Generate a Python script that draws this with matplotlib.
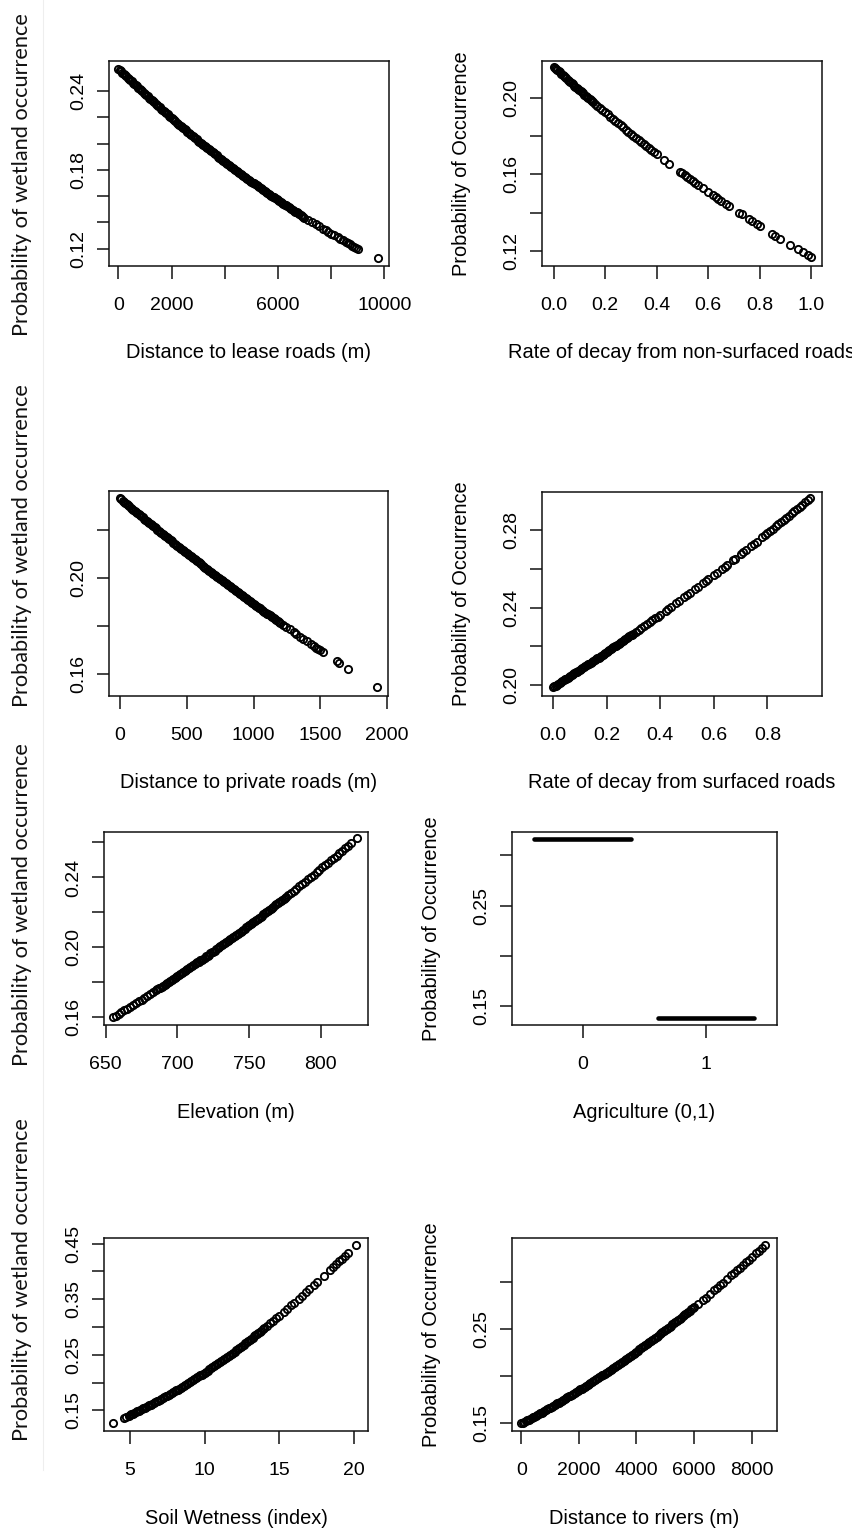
import numpy as np
import matplotlib.pyplot as plt
from matplotlib import rcParams
from matplotlib.lines import Line2D

rcParams['font.family'] = ['Liberation Sans', 'DejaVu Sans']
rcParams['text.color'] = '#111111'

# partial response of wetland occurrence to each predictor
lease_dist = [0, 50, 100, 150, 200, 250, 300, 350, 400, 450,
              500, 550, 600, 650, 700, 750, 800, 850, 900, 950,
              1000, 1050, 1100, 1150, 1200, 1250, 1300, 1350, 1400, 1450,
              1500, 1550, 1600, 1650, 1700, 1750, 1800, 1850, 1900, 1950,
              2000, 2050, 2100, 2150, 2200, 2250, 2300, 2350, 2400, 2450,
              2500, 2550, 2600, 2650, 2700, 2750, 2800, 2850, 2900, 2950,
              3000, 3050, 3100, 3150, 3200, 3250, 3300, 3350, 3400, 3450,
              3500, 3550, 3600, 3650, 3700, 3750, 3800, 3850, 3900, 3950,
              4000, 4050, 4100, 4150, 4200, 4250, 4300, 4350, 4400, 4450,
              4500, 4550, 4600, 4650, 4700, 4750, 4800, 4850, 4900, 4950,
              5000, 5050, 5100, 5150, 5200, 5250, 5300, 5350, 5400, 5450,
              5500, 5550, 5600, 5650, 5700, 5750, 5800, 5850, 5900, 5950,
              6000, 6050, 6100, 6150, 6200, 6250, 6300, 6350, 6400, 6450,
              6500, 6550, 6600, 6650, 6700, 6750, 6800, 6850, 6900, 6950,
              7000, 7150, 7300, 7420, 7550, 7680, 7800, 7900, 8000, 8120,
              8250, 8350, 8450, 8550, 8650, 8720, 8800, 8870, 8950, 9000,
              9774]
lease_prob = [0.2570, 0.2560, 0.2551, 0.2541, 0.2531, 0.2522, 0.2512, 0.2502, 0.2492, 0.2483,
              0.2473, 0.2464, 0.2454, 0.2445, 0.2435, 0.2426, 0.2416, 0.2407, 0.2397, 0.2388,
              0.2378, 0.2369, 0.2359, 0.2350, 0.2341, 0.2332, 0.2322, 0.2313, 0.2304, 0.2295,
              0.2285, 0.2276, 0.2267, 0.2258, 0.2249, 0.2240, 0.2231, 0.2222, 0.2213, 0.2204,
              0.2195, 0.2187, 0.2178, 0.2169, 0.2160, 0.2152, 0.2143, 0.2134, 0.2125, 0.2117,
              0.2108, 0.2100, 0.2091, 0.2083, 0.2074, 0.2066, 0.2057, 0.2049, 0.2040, 0.2032,
              0.2023, 0.2015, 0.2007, 0.1999, 0.1990, 0.1982, 0.1974, 0.1966, 0.1957, 0.1949,
              0.1941, 0.1933, 0.1925, 0.1917, 0.1909, 0.1901, 0.1893, 0.1885, 0.1877, 0.1869,
              0.1861, 0.1854, 0.1846, 0.1838, 0.1830, 0.1823, 0.1815, 0.1807, 0.1799, 0.1792,
              0.1784, 0.1777, 0.1769, 0.1762, 0.1754, 0.1747, 0.1740, 0.1733, 0.1725, 0.1718,
              0.1710, 0.1703, 0.1696, 0.1689, 0.1681, 0.1674, 0.1667, 0.1660, 0.1652, 0.1645,
              0.1638, 0.1631, 0.1624, 0.1617, 0.1610, 0.1603, 0.1596, 0.1589, 0.1582, 0.1575,
              0.1568, 0.1562, 0.1555, 0.1548, 0.1541, 0.1535, 0.1528, 0.1521, 0.1514, 0.1508,
              0.1501, 0.1495, 0.1488, 0.1482, 0.1475, 0.1469, 0.1462, 0.1456, 0.1449, 0.1443,
              0.1436, 0.1417, 0.1399, 0.1384, 0.1368, 0.1352, 0.1338, 0.1326, 0.1314, 0.1300,
              0.1285, 0.1273, 0.1262, 0.1250, 0.1239, 0.1231, 0.1222, 0.1215, 0.1206, 0.1200,
              0.1130]

nonsurf_decay = [0.0, 0.005, 0.01, 0.015, 0.02, 0.025, 0.03, 0.035, 0.04, 0.045,
                 0.05, 0.055, 0.06, 0.065, 0.07, 0.075, 0.08, 0.085, 0.09, 0.095,
                 0.10, 0.105, 0.11, 0.115, 0.12, 0.125, 0.13, 0.135, 0.14, 0.145,
                 0.15, 0.155, 0.16, 0.17, 0.18, 0.19, 0.20, 0.21, 0.22, 0.23,
                 0.24, 0.25, 0.26, 0.27, 0.28, 0.29, 0.30, 0.31, 0.32, 0.33,
                 0.34, 0.35, 0.36, 0.37, 0.38, 0.39, 0.40, 0.43, 0.45, 0.49,
                 0.50, 0.51, 0.52, 0.53, 0.54, 0.55, 0.56, 0.58, 0.60, 0.62,
                 0.63, 0.64, 0.65, 0.67, 0.68, 0.72, 0.73, 0.76, 0.77, 0.79,
                 0.80, 0.85, 0.86, 0.88, 0.92, 0.95, 0.97, 0.99, 1.00]
nonsurf_prob = [0.2162, 0.2156, 0.2150, 0.2144, 0.2138, 0.2132, 0.2125, 0.2119, 0.2113, 0.2107,
                0.2101, 0.2095, 0.2089, 0.2083, 0.2077, 0.2071, 0.2064, 0.2058, 0.2052, 0.2046,
                0.2040, 0.2034, 0.2028, 0.2023, 0.2017, 0.2011, 0.2005, 0.2000, 0.1994, 0.1988,
                0.1982, 0.1976, 0.1970, 0.1959, 0.1947, 0.1936, 0.1924, 0.1913, 0.1902, 0.1890,
                0.1879, 0.1868, 0.1857, 0.1846, 0.1834, 0.1823, 0.1812, 0.1801, 0.1791, 0.1780,
                0.1770, 0.1759, 0.1748, 0.1738, 0.1727, 0.1717, 0.1706, 0.1676, 0.1656, 0.1615,
                0.1605, 0.1595, 0.1586, 0.1576, 0.1567, 0.1557, 0.1547, 0.1528, 0.1509, 0.1491,
                0.1481, 0.1472, 0.1463, 0.1445, 0.1435, 0.1400, 0.1391, 0.1365, 0.1356, 0.1339,
                0.1330, 0.1289, 0.1281, 0.1264, 0.1232, 0.1209, 0.1193, 0.1178, 0.1170]

private_dist = [0, 10, 20, 30, 40, 50, 60, 70, 80, 90,
                100, 110, 120, 130, 140, 150, 160, 170, 180, 190,
                200, 210, 220, 230, 240, 250, 260, 270, 280, 290,
                300, 310, 320, 330, 340, 350, 360, 370, 380, 390,
                400, 410, 420, 430, 440, 450, 460, 470, 480, 490,
                500, 510, 520, 530, 540, 550, 560, 570, 580, 590,
                600, 610, 620, 630, 640, 650, 660, 670, 680, 690,
                700, 710, 720, 730, 740, 750, 760, 770, 780, 790,
                800, 810, 820, 830, 840, 850, 860, 870, 880, 890,
                900, 910, 920, 930, 940, 950, 960, 970, 980, 990,
                1000, 1010, 1020, 1030, 1040, 1050, 1060, 1070, 1080, 1090,
                1100, 1110, 1120, 1130, 1140, 1150, 1160, 1170, 1180, 1190,
                1200, 1220, 1240, 1270, 1300, 1320, 1350, 1370, 1400, 1430,
                1450, 1470, 1485, 1500, 1517, 1622, 1639, 1709, 1921]
private_prob = [0.2332, 0.2328, 0.2323, 0.2318, 0.2313, 0.2309, 0.2304, 0.2299, 0.2294, 0.2290,
                0.2285, 0.2281, 0.2276, 0.2272, 0.2267, 0.2262, 0.2257, 0.2253, 0.2248, 0.2244,
                0.2239, 0.2235, 0.2230, 0.2226, 0.2221, 0.2216, 0.2211, 0.2207, 0.2202, 0.2198,
                0.2193, 0.2189, 0.2184, 0.2180, 0.2175, 0.2171, 0.2166, 0.2162, 0.2157, 0.2153,
                0.2148, 0.2144, 0.2139, 0.2135, 0.2130, 0.2126, 0.2122, 0.2118, 0.2113, 0.2109,
                0.2104, 0.2100, 0.2095, 0.2091, 0.2087, 0.2083, 0.2078, 0.2074, 0.2070, 0.2066,
                0.2061, 0.2057, 0.2052, 0.2048, 0.2043, 0.2039, 0.2035, 0.2031, 0.2026, 0.2022,
                0.2017, 0.2013, 0.2009, 0.2005, 0.2000, 0.1996, 0.1992, 0.1988, 0.1983, 0.1979,
                0.1975, 0.1971, 0.1967, 0.1963, 0.1959, 0.1955, 0.1950, 0.1946, 0.1942, 0.1938,
                0.1934, 0.1930, 0.1926, 0.1922, 0.1918, 0.1914, 0.1909, 0.1905, 0.1901, 0.1897,
                0.1893, 0.1889, 0.1885, 0.1881, 0.1877, 0.1873, 0.1868, 0.1864, 0.1860, 0.1856,
                0.1852, 0.1848, 0.1844, 0.1840, 0.1836, 0.1833, 0.1829, 0.1825, 0.1821, 0.1817,
                0.1813, 0.1805, 0.1797, 0.1786, 0.1774, 0.1766, 0.1755, 0.1747, 0.1736, 0.1725,
                0.1717, 0.1709, 0.1704, 0.1698, 0.1692, 0.1653, 0.1647, 0.1622, 0.1547]

surf_decay = [0.000, 0.005, 0.010, 0.015, 0.020, 0.025, 0.030, 0.035, 0.040, 0.045,
              0.050, 0.055, 0.060, 0.065, 0.070, 0.075, 0.080, 0.085, 0.090, 0.095,
              0.100, 0.105, 0.110, 0.115, 0.120, 0.125, 0.130, 0.135, 0.140, 0.145,
              0.150, 0.155, 0.160, 0.165, 0.170, 0.175, 0.180, 0.185, 0.190, 0.195,
              0.200, 0.205, 0.210, 0.215, 0.220, 0.225, 0.230, 0.235, 0.240, 0.245,
              0.250, 0.255, 0.260, 0.265, 0.270, 0.275, 0.280, 0.285, 0.290, 0.295,
              0.30, 0.31, 0.32, 0.33, 0.34, 0.35, 0.36, 0.37, 0.38, 0.39,
              0.40, 0.42, 0.43, 0.44, 0.46, 0.47, 0.49, 0.50, 0.51, 0.53,
              0.54, 0.56, 0.57, 0.58, 0.60, 0.61, 0.63, 0.64, 0.65, 0.67,
              0.68, 0.70, 0.71, 0.72, 0.74, 0.75, 0.76, 0.78, 0.79, 0.80,
              0.81, 0.82, 0.83, 0.84, 0.85, 0.86, 0.87, 0.88, 0.89, 0.90,
              0.91, 0.92, 0.93, 0.94, 0.95, 0.96]
surf_prob = [0.1988, 0.1993, 0.1997, 0.2002, 0.2006, 0.2011, 0.2015, 0.2020, 0.2024, 0.2029,
             0.2033, 0.2038, 0.2042, 0.2047, 0.2051, 0.2056, 0.2060, 0.2065, 0.2069, 0.2074,
             0.2078, 0.2083, 0.2087, 0.2092, 0.2096, 0.2101, 0.2106, 0.2111, 0.2115, 0.2120,
             0.2124, 0.2129, 0.2133, 0.2138, 0.2142, 0.2147, 0.2152, 0.2157, 0.2161, 0.2166,
             0.2170, 0.2175, 0.2180, 0.2185, 0.2189, 0.2194, 0.2199, 0.2204, 0.2208, 0.2213,
             0.2218, 0.2223, 0.2227, 0.2232, 0.2237, 0.2242, 0.2246, 0.2251, 0.2256, 0.2261,
             0.2265, 0.2275, 0.2285, 0.2295, 0.2305, 0.2315, 0.2324, 0.2334, 0.2344, 0.2354,
             0.2364, 0.2384, 0.2394, 0.2404, 0.2424, 0.2434, 0.2455, 0.2465, 0.2475, 0.2496,
             0.2506, 0.2527, 0.2538, 0.2548, 0.2569, 0.2580, 0.2601, 0.2612, 0.2622, 0.2644,
             0.2654, 0.2676, 0.2687, 0.2698, 0.2720, 0.2731, 0.2742, 0.2764, 0.2775, 0.2786,
             0.2797, 0.2808, 0.2820, 0.2831, 0.2842, 0.2853, 0.2864, 0.2876, 0.2887, 0.2898,
             0.2910, 0.2921, 0.2933, 0.2944, 0.2956, 0.2967]

elevation = [655, 657, 659, 661, 663, 665, 667, 669, 671, 673,
             675, 677, 679, 681, 683, 685, 686, 687, 688, 689,
             690, 691, 692, 693, 694, 695, 696, 697, 698, 699,
             700, 701, 702, 703, 704, 705, 706, 707, 708, 709,
             710, 711, 712, 713, 714, 715, 716, 717, 718, 719,
             720, 721, 722, 723, 724, 725, 726, 727, 728, 729,
             730, 731, 732, 733, 734, 735, 736, 737, 738, 739,
             740, 741, 742, 743, 744, 745, 746, 747, 748, 749,
             750, 751, 752, 753, 754, 755, 756, 757, 758, 759,
             760, 761, 762, 763, 764, 765, 766, 767, 768, 769,
             770, 771, 772, 773, 774, 775, 776, 777, 779, 781,
             783, 785, 787, 789, 791, 793, 795, 797, 799, 801,
             803, 805, 807, 809, 811, 813, 815, 817, 819, 821,
             825]
elev_prob = [0.1600, 0.1610, 0.1620, 0.1630, 0.1640, 0.1650, 0.1660, 0.1670, 0.1681, 0.1691,
             0.1701, 0.1712, 0.1722, 0.1733, 0.1743, 0.1754, 0.1760, 0.1765, 0.1770, 0.1775,
             0.1781, 0.1786, 0.1791, 0.1796, 0.1802, 0.1807, 0.1813, 0.1818, 0.1824, 0.1829,
             0.1835, 0.1841, 0.1847, 0.1852, 0.1858, 0.1863, 0.1869, 0.1874, 0.1880, 0.1885,
             0.1891, 0.1897, 0.1903, 0.1908, 0.1914, 0.1919, 0.1925, 0.1930, 0.1936, 0.1942,
             0.1948, 0.1953, 0.1959, 0.1965, 0.1971, 0.1976, 0.1982, 0.1988, 0.1994, 0.2000,
             0.2006, 0.2011, 0.2017, 0.2023, 0.2029, 0.2035, 0.2041, 0.2047, 0.2053, 0.2059,
             0.2066, 0.2072, 0.2078, 0.2084, 0.2090, 0.2096, 0.2102, 0.2108, 0.2114, 0.2120,
             0.2127, 0.2133, 0.2139, 0.2145, 0.2151, 0.2157, 0.2164, 0.2170, 0.2176, 0.2182,
             0.2189, 0.2195, 0.2201, 0.2207, 0.2214, 0.2220, 0.2227, 0.2233, 0.2240, 0.2246,
             0.2252, 0.2258, 0.2265, 0.2271, 0.2278, 0.2284, 0.2291, 0.2297, 0.2310, 0.2323,
             0.2336, 0.2349, 0.2362, 0.2376, 0.2389, 0.2403, 0.2416, 0.2430, 0.2443, 0.2457,
             0.2470, 0.2484, 0.2498, 0.2512, 0.2525, 0.2539, 0.2553, 0.2567, 0.2581, 0.2595,
             0.2623]

agri_level = [0, 1]
agri_prob = [0.3164, 0.1383]
agri_jitter = 0.39

soil_wet = [3.88, 4.6, 4.75, 4.9,
            5.0, 5.1, 5.2, 5.3, 5.4, 5.5, 5.6, 5.7, 5.8, 5.9,
            6.0, 6.1, 6.2, 6.3, 6.4, 6.5, 6.6, 6.7, 6.8, 6.9,
            7.0, 7.1, 7.2, 7.3, 7.4, 7.5, 7.6, 7.7, 7.8, 7.9,
            8.0, 8.1, 8.2, 8.3, 8.4, 8.5, 8.6, 8.7, 8.8, 8.9,
            9.0, 9.1, 9.2, 9.3, 9.4, 9.5, 9.6, 9.7, 9.8, 9.9,
            10.0, 10.1, 10.2, 10.3, 10.4, 10.5, 10.6, 10.7, 10.8, 10.9,
            11.0, 11.1, 11.2, 11.3, 11.4, 11.5, 11.6, 11.7, 11.8, 11.9,
            12.0, 12.1, 12.2, 12.3, 12.4, 12.5, 12.6, 12.7, 12.8, 12.9,
            13.0, 13.1, 13.2, 13.3, 13.4, 13.5, 13.6, 13.7, 13.8, 13.9,
            14.0, 14.2, 14.4, 14.6, 14.8, 15.0, 15.3, 15.5, 15.8, 16.0,
            16.3, 16.5, 16.8, 17.0, 17.3, 17.5, 18.0, 18.4, 18.6, 18.8,
            19.0, 19.2, 19.4, 19.6, 20.16]
soil_prob = [0.1276, 0.1363, 0.1382, 0.1401,
             0.1413, 0.1427, 0.1440, 0.1453, 0.1466, 0.1480, 0.1493, 0.1506, 0.1519, 0.1533,
             0.1546, 0.1560, 0.1574, 0.1589, 0.1603, 0.1617, 0.1631, 0.1646, 0.1660, 0.1674,
             0.1688, 0.1704, 0.1719, 0.1734, 0.1749, 0.1765, 0.1780, 0.1795, 0.1810, 0.1826,
             0.1841, 0.1858, 0.1874, 0.1890, 0.1906, 0.1923, 0.1939, 0.1955, 0.1971, 0.1988,
             0.2004, 0.2022, 0.2039, 0.2057, 0.2074, 0.2092, 0.2109, 0.2127, 0.2144, 0.2162,
             0.2179, 0.2198, 0.2216, 0.2235, 0.2253, 0.2271, 0.2289, 0.2308, 0.2326, 0.2345,
             0.2363, 0.2383, 0.2402, 0.2422, 0.2441, 0.2461, 0.2480, 0.2500, 0.2519, 0.2539,
             0.2558, 0.2579, 0.2599, 0.2620, 0.2640, 0.2661, 0.2682, 0.2703, 0.2723, 0.2744,
             0.2764, 0.2786, 0.2807, 0.2829, 0.2850, 0.2872, 0.2893, 0.2915, 0.2936, 0.2958,
             0.2979, 0.3024, 0.3069, 0.3114, 0.3159, 0.3204, 0.3274, 0.3321, 0.3391, 0.3438,
             0.3510, 0.3559, 0.3631, 0.3679, 0.3753, 0.3803, 0.3926, 0.4028, 0.4079, 0.4130,
             0.4181, 0.4232, 0.4284, 0.4335, 0.4480]

river_dist = [0, 50, 100, 150, 200, 250, 300, 350, 400, 450,
              500, 550, 600, 650, 700, 750, 800, 850, 900, 950,
              1000, 1050, 1100, 1150, 1200, 1250, 1300, 1350, 1400, 1450,
              1500, 1550, 1600, 1650, 1700, 1750, 1800, 1850, 1900, 1950,
              2000, 2050, 2100, 2150, 2200, 2250, 2300, 2350, 2400, 2450,
              2500, 2550, 2600, 2650, 2700, 2750, 2800, 2850, 2900, 2950,
              3000, 3050, 3100, 3150, 3200, 3250, 3300, 3350, 3400, 3450,
              3500, 3550, 3600, 3650, 3700, 3750, 3800, 3850, 3900, 3950,
              4000, 4050, 4100, 4150, 4200, 4250, 4300, 4350, 4400, 4450,
              4500, 4550, 4600, 4650, 4700, 4750, 4800, 4850, 4900, 4950,
              5000, 5050, 5100, 5150, 5200, 5250, 5300, 5350, 5400, 5450,
              5500, 5550, 5600, 5650, 5700, 5750, 5800, 5850, 5900, 5950,
              6000, 6150, 6300, 6400, 6550, 6700, 6800, 6900, 7000, 7150,
              7300, 7400, 7500, 7600, 7700, 7800, 7900, 8000, 8150, 8250,
              8350, 8477]
river_prob = [0.1500, 0.1508, 0.1516, 0.1525, 0.1533, 0.1541, 0.1549, 0.1558, 0.1566, 0.1574,
              0.1582, 0.1591, 0.1599, 0.1608, 0.1616, 0.1625, 0.1634, 0.1643, 0.1651, 0.1660,
              0.1668, 0.1677, 0.1686, 0.1695, 0.1704, 0.1713, 0.1722, 0.1731, 0.1740, 0.1749,
              0.1758, 0.1768, 0.1777, 0.1787, 0.1796, 0.1805, 0.1814, 0.1824, 0.1833, 0.1843,
              0.1852, 0.1862, 0.1871, 0.1881, 0.1891, 0.1901, 0.1910, 0.1920, 0.1930, 0.1940,
              0.1949, 0.1959, 0.1969, 0.1980, 0.1990, 0.2000, 0.2010, 0.2020, 0.2030, 0.2040,
              0.2050, 0.2061, 0.2071, 0.2082, 0.2092, 0.2103, 0.2113, 0.2124, 0.2134, 0.2145,
              0.2155, 0.2166, 0.2177, 0.2188, 0.2198, 0.2209, 0.2220, 0.2231, 0.2241, 0.2252,
              0.2263, 0.2275, 0.2286, 0.2297, 0.2308, 0.2320, 0.2331, 0.2342, 0.2353, 0.2365,
              0.2376, 0.2388, 0.2399, 0.2411, 0.2422, 0.2434, 0.2446, 0.2458, 0.2469, 0.2481,
              0.2492, 0.2504, 0.2516, 0.2528, 0.2540, 0.2552, 0.2564, 0.2576, 0.2588, 0.2600,
              0.2612, 0.2625, 0.2637, 0.2650, 0.2662, 0.2674, 0.2686, 0.2699, 0.2711, 0.2724,
              0.2736, 0.2774, 0.2813, 0.2838, 0.2877, 0.2916, 0.2942, 0.2968, 0.2994, 0.3035,
              0.3075, 0.3102, 0.3129, 0.3156, 0.3184, 0.3211, 0.3239, 0.3266, 0.3308, 0.3336,
              0.3364, 0.3400]

W, H, DPI = 853, 1529, 100
fig = plt.figure(figsize=(W / DPI, H / DPI), dpi=DPI)
fig.patch.set_facecolor('white')
INK = '#111111'


def make_axes(box, xlim, ylim, xticks, xlabels, yticks, ylabels, xlab, ylab=None):
    # box is (left, top, right, bottom) in pixels
    l, t, r, b = box
    ax = fig.add_axes([l / W, 1 - b / H, (r - l) / W, (b - t) / H])
    ax.set_xlim(xlim)
    ax.set_ylim(ylim)
    ax.set_xticks(xticks)
    ax.set_xticklabels(xlabels, fontsize=14)
    ax.set_yticks(yticks)
    ax.set_yticklabels(ylabels, fontsize=14, rotation=90, va='center')
    ax.tick_params(axis='both', direction='out', length=9, width=1.1, color=INK)
    ax.tick_params(axis='x', pad=13.5)
    ax.tick_params(axis='y', pad=6.8)
    for s in ax.spines.values():
        s.set_linewidth(1.1)
        s.set_color(INK)
    ax.set_xlabel(xlab, fontsize=14.4)
    ax.xaxis.set_label_coords(0.5, -87 / (b - t))
    ax.xaxis.label.set_va('center')
    if ylab:
        ax.set_ylabel(ylab, fontsize=14.4)
        ax.yaxis.set_label_coords(-80 / (r - l), 0.5)
        ax.yaxis.label.set_va('center')
    return ax


def points(ax, x, y):
    ax.plot(x, y, 'o', ms=5.2, mfc='none', mec='black', mew=1.35, linestyle='none')


occ = 'Probability of Occurrence'

ax1 = make_axes((109, 61, 389, 266), (-350, 10177), (0.1067, 0.2629),
                [0, 2000, 4000, 6000, 8000, 10000], ['0', '2000', '', '6000', '', '10000'],
                [0.12, 0.14, 0.16, 0.18, 0.20, 0.22, 0.24],
                ['0.12', '', '', '0.18', '', '', '0.24'],
                'Distance to lease roads (m)')
points(ax1, lease_dist, lease_prob)

ax2 = make_axes((542, 61, 822, 266), (-0.045, 1.0427), (0.1122, 0.2192),
                [0, 0.2, 0.4, 0.6, 0.8, 1.0], ['0.0', '0.2', '0.4', '0.6', '0.8', '1.0'],
                [0.12, 0.14, 0.16, 0.18, 0.20], ['0.12', '', '0.16', '', '0.20'],
                'Rate of decay from non-surfaced roads', occ)
points(ax2, nonsurf_decay, nonsurf_prob)

ax3 = make_axes((109, 491, 388, 696), (-82, 2006), (0.1508, 0.2363),
                [0, 500, 1000, 1500, 2000], ['0', '500', '1000', '1500', '2000'],
                [0.16, 0.18, 0.20, 0.22], ['0.16', '', '0.20', ''],
                'Distance to private roads (m)')
points(ax3, private_dist, private_prob)

ax4 = make_axes((542, 492, 822, 696), (-0.041, 1.0034), (0.1943, 0.2998),
                [0, 0.2, 0.4, 0.6, 0.8], ['0.0', '0.2', '0.4', '0.6', '0.8'],
                [0.20, 0.22, 0.24, 0.26, 0.28], ['0.20', '', '0.24', '', '0.28'],
                'Rate of decay from surfaced roads', occ)
points(ax4, surf_decay, surf_prob)

ax5 = make_axes((104, 832, 368, 1025), (648.8, 832.9), (0.1556, 0.266),
                [650, 700, 750, 800], ['650', '700', '750', '800'],
                [0.16, 0.18, 0.20, 0.22, 0.24, 0.26], ['0.16', '', '0.20', '', '0.24', ''],
                'Elevation (m)')
points(ax5, elevation, elev_prob)

ax6 = make_axes((512, 832, 777, 1025), (-0.571, 1.573), (0.131, 0.3233),
                [0, 1], ['0', '1'],
                [0.15, 0.20, 0.25, 0.30], ['0.15', '', '0.25', ''],
                'Agriculture (0,1)', occ)
lv = np.array(agri_level, dtype=float)
ax6.hlines(agri_prob, lv - agri_jitter, lv + agri_jitter, colors='black',
           linewidth=3.3, capstyle='round')

ax7 = make_axes((104, 1238, 368, 1431), (3.26, 20.93), (0.1127, 0.4603),
                [5, 10, 15, 20], ['5', '10', '15', '20'],
                [0.15, 0.20, 0.25, 0.30, 0.35, 0.40, 0.45],
                ['0.15', '', '0.25', '', '0.35', '', '0.45'],
                'Soil Wetness (index)')
points(ax7, soil_wet, soil_prob)

ax8 = make_axes((512, 1238, 777, 1431), (-328, 8885), (0.142, 0.347),
                [0, 2000, 4000, 6000, 8000], ['0', '2000', '4000', '6000', '8000'],
                [0.15, 0.20, 0.25, 0.30], ['0.15', '', '0.25', ''],
                'Distance to rivers (m)', occ)
points(ax8, river_dist, river_prob)

# left column labels set in a separate typeface
fig.add_artist(Line2D([43 / W, 43 / W], [1, 1 - 1470 / H], color='#eeeeee', lw=0.8))
wet_labels = []
for cy in [175, 546, 905, 1280]:
    wet_labels.append(fig.text(22 / W, 1 - cy / H, 'Probability of wetland occurrence',
                               rotation=90, ha='center', va='center',
                               family=['Lato', 'DejaVu Sans'], fontsize=15, color=INK))
fig.canvas.draw()
r = fig.canvas.get_renderer()
span = wet_labels[0].get_window_extent(r).height
for t in wet_labels:
    t.set_fontsize(15 * 324 / span)

fig.savefig('out.png', dpi=DPI, facecolor='white')
